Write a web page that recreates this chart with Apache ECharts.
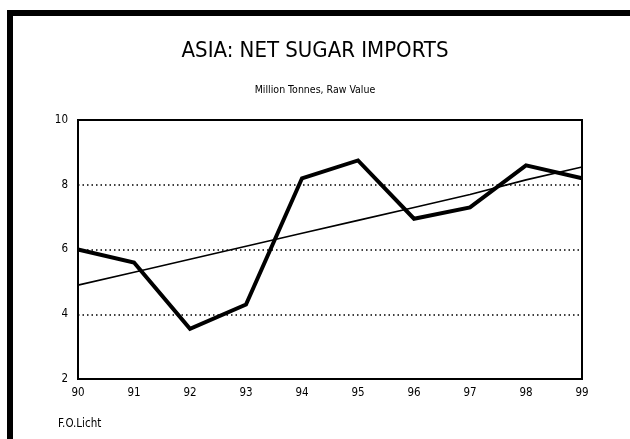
<!DOCTYPE html>
<html>
<head>
<meta charset="utf-8">
<script src="https://cdn.jsdelivr.net/npm/echarts@6/dist/echarts.min.js"></script>
<style>html,body{margin:0;padding:0;background:#fff;}#c{width:630px;height:439px;}</style>
</head>
<body>
<div id="c"></div>
<script>
var years = ['90','91','92','93','94','95','96','97','98','99'];
var imports = [6.0, 5.6, 3.55, 4.3, 8.2, 8.75, 6.95, 7.3, 8.6, 8.2];
var trend = [4.9, 5.3, 5.7, 6.1, 6.5, 6.9, 7.3, 7.7, 8.15, 8.55];
var yTicks = [2, 4, 6, 8, 10];

var FONT = '"Liberation Sans Narrow", "DejaVu Sans Condensed", "Liberation Sans", sans-serif';
var chart = echarts.init(document.getElementById('c'), null, {renderer: 'canvas'});
chart.setOption({
  backgroundColor: '#fff',
  animation: false,
  title: [
    {text: 'ASIA: NET SUGAR IMPORTS', left: 'center', top: 35,
     textStyle: {fontFamily: FONT, fontSize: 22, fontWeight: 'normal', color: '#000'}},
    {text: 'Million Tonnes, Raw Value', left: 'center', top: 80,
     textStyle: {fontFamily: FONT, fontSize: 10.5, fontWeight: 'normal', color: '#000'}},
    {text: 'F.O.Licht', left: 53, top: 413,
     textStyle: {fontFamily: FONT, fontSize: 11.5, fontWeight: 'normal', color: '#000'}}
  ],
  graphic: [
    {type: 'rect', shape: {x: 7, y: 10, width: 623, height: 6}, style: {fill: '#000'}},
    {type: 'rect', shape: {x: 7, y: 10, width: 6, height: 429}, style: {fill: '#000'}}
  ],
  grid: {left: 78, right: 48, top: 120, bottom: 60, show: true, borderColor: '#000', borderWidth: 2, backgroundColor: 'transparent'},
  xAxis: {
    type: 'category', data: years, boundaryGap: false,
    axisLine: {show: true, lineStyle: {color: '#000', width: 2}},
    axisTick: {show: false},
    axisLabel: {fontFamily: FONT, fontSize: 11.5, color: '#000', margin: 8},
    splitLine: {show: false}
  },
  yAxis: {
    type: 'value', min: yTicks[0], max: yTicks[yTicks.length - 1], interval: 2,
    axisLine: {show: true, lineStyle: {color: '#000', width: 2}},
    axisTick: {show: false},
    axisLabel: {fontFamily: FONT, fontSize: 11.5, color: '#000', margin: 10},
    splitLine: {show: true, lineStyle: {color: '#000', width: 1.5, type: [1.5, 3]}}
  },
  series: [
    {type: 'line', data: trend, symbol: 'none', lineStyle: {color: '#000', width: 1.6}, z: 3},
    {type: 'line', data: imports, symbol: 'none', lineStyle: {color: '#000', width: 4, join: 'miter'}, z: 4}
  ]
});
</script>
</body>
</html>
